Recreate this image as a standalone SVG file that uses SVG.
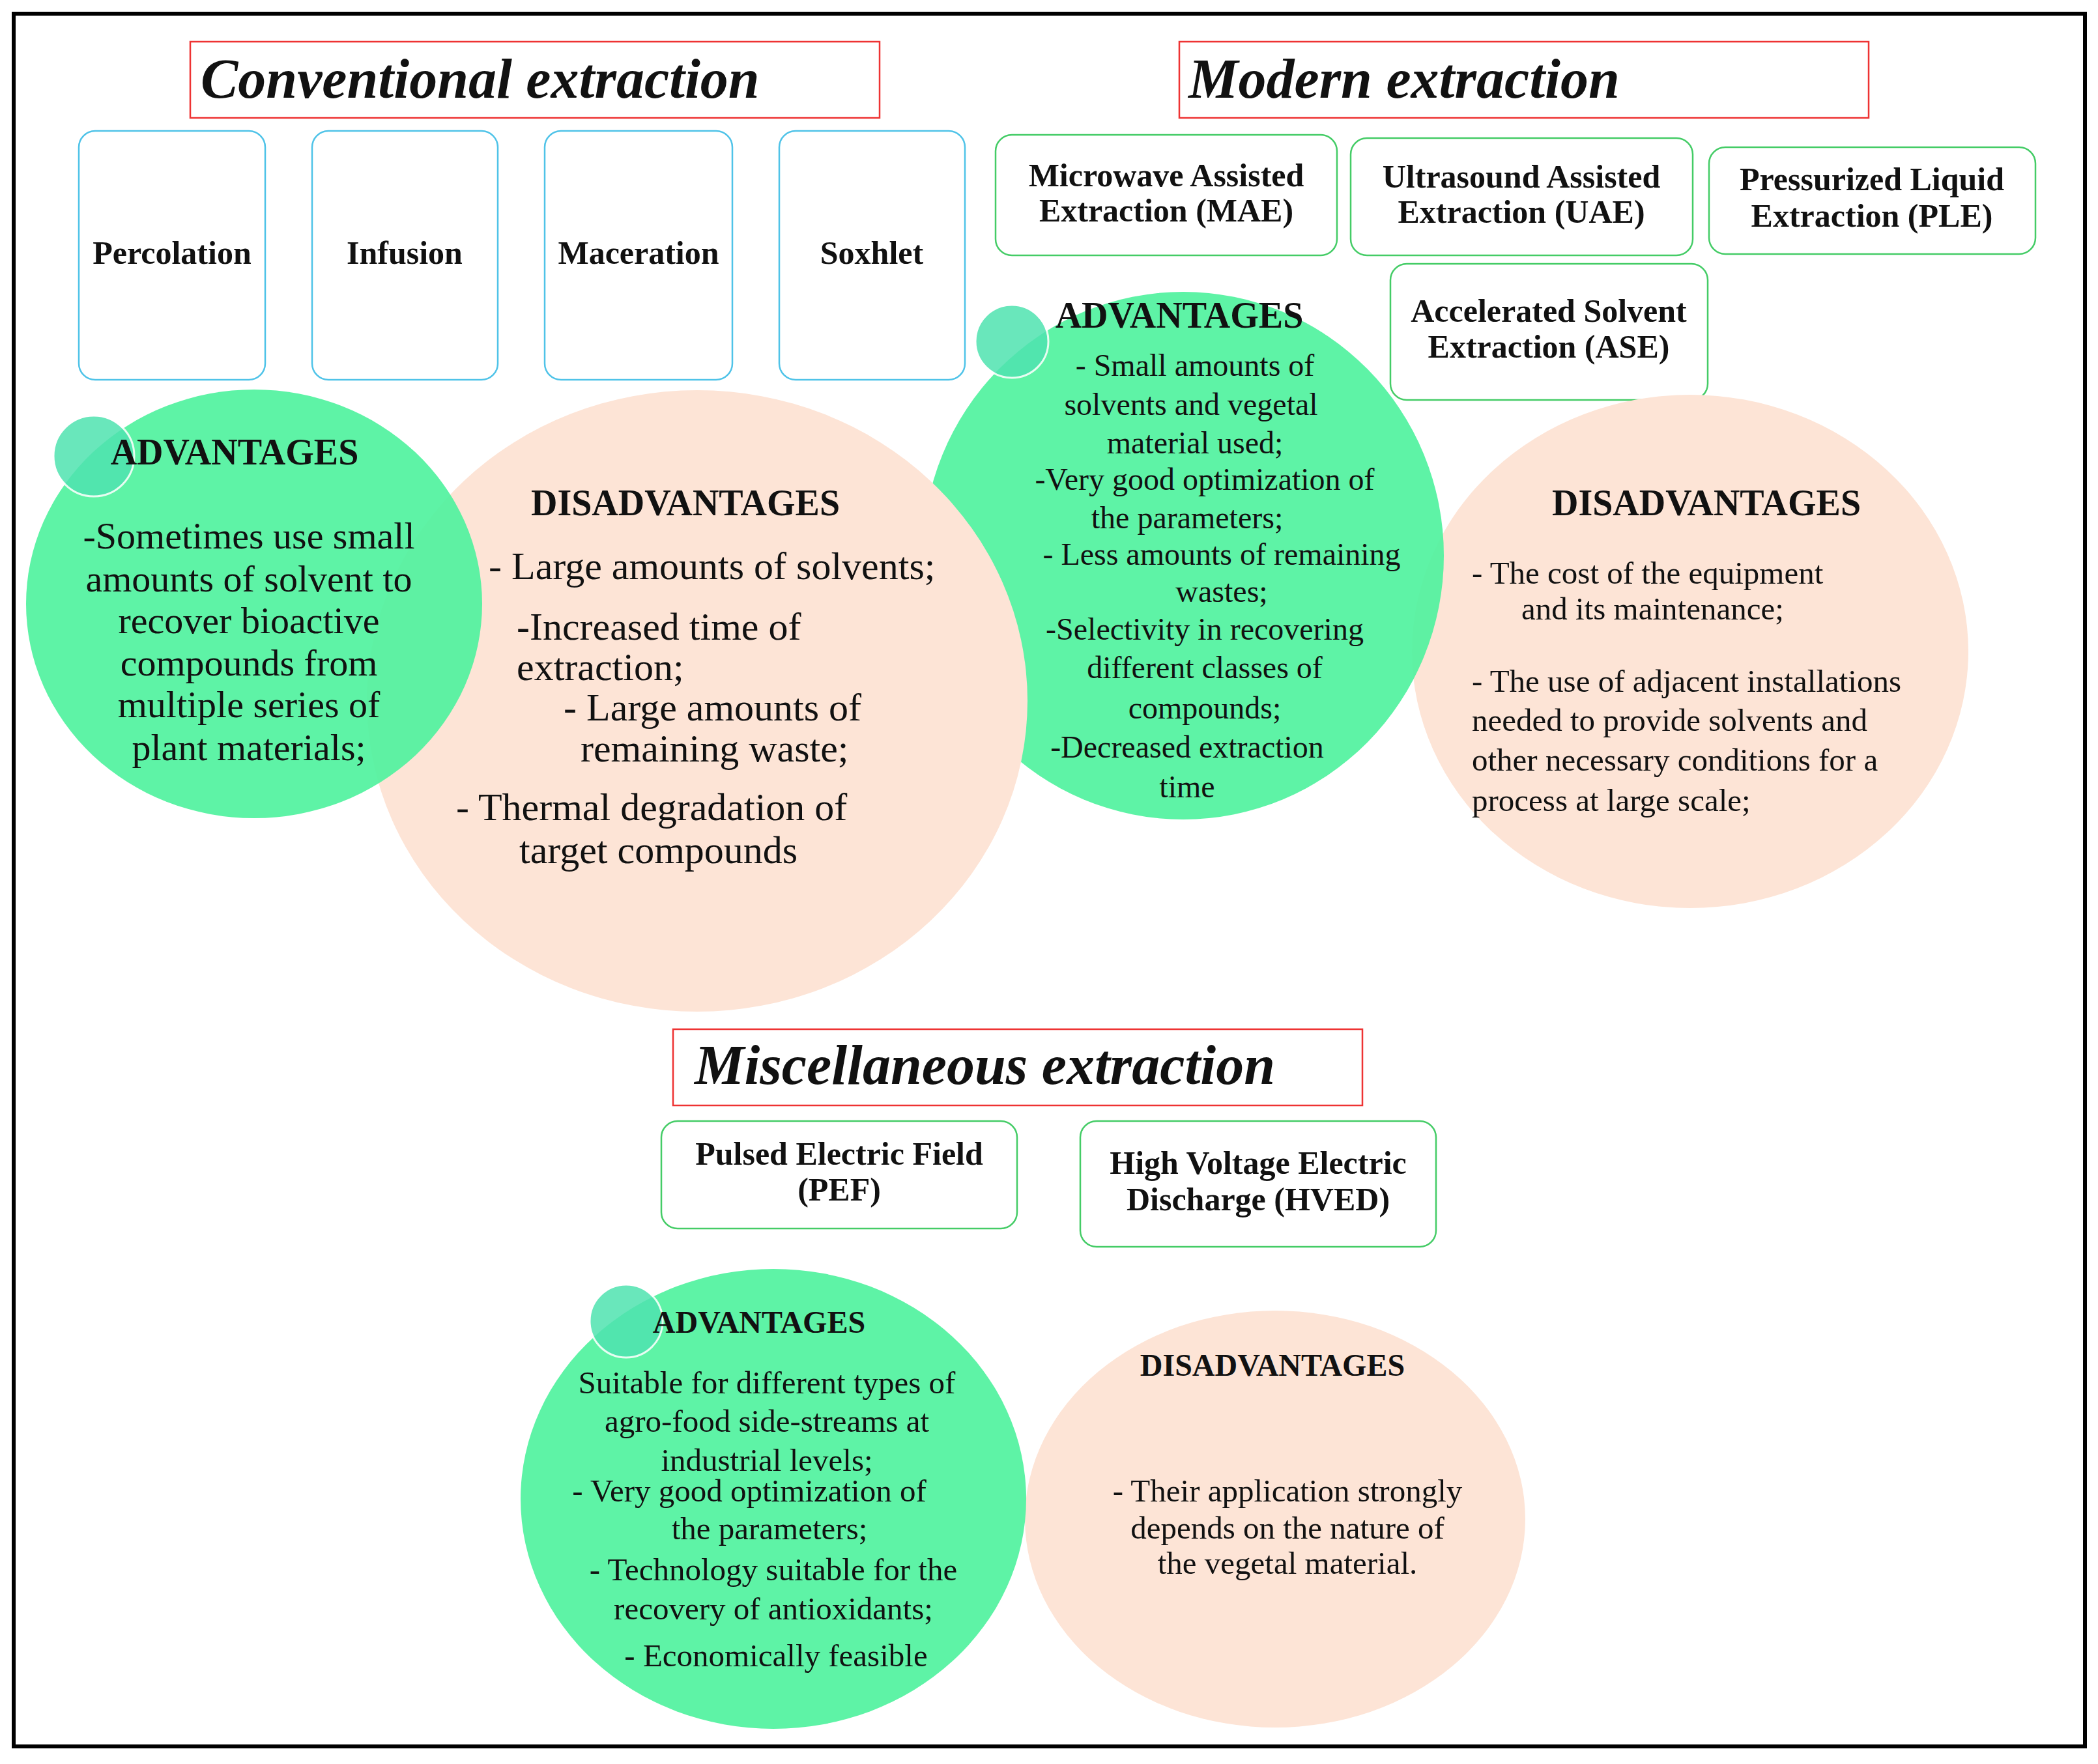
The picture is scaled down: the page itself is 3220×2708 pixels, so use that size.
<svg xmlns="http://www.w3.org/2000/svg" width="3220" height="2708" viewBox="0 0 3220 2708">
<style>
.t{font-family:"Liberation Serif",serif;fill:#111}
.ttl{font-style:italic;font-weight:bold;font-size:86px}
.red{fill:#fff;stroke:#ee3333;stroke-width:2.5}
.cb{fill:#fff;stroke:#4fc3e8;stroke-width:2.5}
.mb{fill:#fff;stroke:#44cc66;stroke-width:2.5}
.bn{font-weight:bold;font-size:50px;text-anchor:middle}
.hd{font-weight:bold;text-anchor:middle}
.g{fill:#52f29f;opacity:0.93}
.p{fill:#fde4d6}
.sc{fill:#4fe3b0;opacity:0.85;stroke:#fff;stroke-width:3}
</style>
<rect x="0" y="0" width="3220" height="2708" fill="#fff"/>
<rect x="21" y="21" width="3179" height="2660" fill="none" stroke="#000" stroke-width="6"/>

<g id="title-conv"><rect class="red" x="292" y="64" width="1058" height="117"/><text class="t ttl" x="308" y="150">Conventional extraction</text></g>
<g id="title-modern"><rect class="red" x="1810" y="64" width="1058" height="117"/><text class="t ttl" x="1824" y="150">Modern extraction</text></g>
<g id="title-misc"><rect class="red" x="1033" y="1580" width="1058" height="117"/><text class="t ttl" x="1066" y="1664">Miscellaneous extraction</text></g>

<g id="percolation"><rect class="cb" x="121" y="201" width="286" height="382" rx="25"/><text class="t bn" x="264" y="405">Percolation</text></g>
<g id="infusion"><rect class="cb" x="479" y="201" width="285" height="382" rx="25"/><text class="t bn" x="621" y="405">Infusion</text></g>
<g id="maceration"><rect class="cb" x="836" y="201" width="288" height="382" rx="25"/><text class="t bn" x="980" y="405">Maceration</text></g>
<g id="soxhlet"><rect class="cb" x="1196" y="201" width="285" height="382" rx="25"/><text class="t bn" x="1338" y="405">Soxhlet</text></g>

<g id="mae"><rect class="mb" x="1528" y="207" width="524" height="185" rx="25"/><text class="t bn" x="1790" y="286">Microwave Assisted</text><text class="t bn" x="1790" y="340">Extraction (MAE)</text></g>
<g id="uae"><rect class="mb" x="2073" y="212" width="525" height="180" rx="25"/><text class="t bn" x="2335" y="288">Ultrasound Assisted</text><text class="t bn" x="2335" y="342">Extraction (UAE)</text></g>
<g id="ple"><rect class="mb" x="2623" y="226" width="501" height="164" rx="25"/><text class="t bn" x="2873" y="292">Pressurized Liquid</text><text class="t bn" x="2873" y="348">Extraction (PLE)</text></g>
<g id="ase"><rect class="mb" x="2134" y="405" width="487" height="209" rx="25"/><text class="t bn" x="2377" y="494">Accelerated Solvent</text><text class="t bn" x="2377" y="549">Extraction (ASE)</text></g>

<g id="pef"><rect class="mb" x="1015" y="1721" width="546" height="165" rx="25"/><text class="t bn" x="1288" y="1788">Pulsed Electric Field</text><text class="t bn" x="1288" y="1843">(PEF)</text></g>
<g id="hved"><rect class="mb" x="1658" y="1721" width="546" height="193" rx="25"/><text class="t bn" x="1931" y="1802">High Voltage Electric</text><text class="t bn" x="1931" y="1858">Discharge (HVED)</text></g>

<g id="mod-disadv"><ellipse class="p" cx="2594" cy="1000" rx="427" ry="394"/>
<text class="t hd" x="2619" y="791" font-size="56">DISADVANTAGES</text>
<g class="t" font-size="49"><text x="2259" y="896">- The cost of the equipment</text><text x="2335" y="951">and its maintenance;</text><text x="2259" y="1062">- The use of adjacent installations</text><text x="2259" y="1122">needed to provide solvents and</text><text x="2259" y="1183">other necessary conditions for a</text><text x="2259" y="1245">process at large scale;</text></g></g>
<g id="mod-adv"><ellipse class="g" cx="1816" cy="853" rx="400" ry="405"/><circle class="sc" cx="1553" cy="524" r="56"/>
<text class="t hd" x="1810" y="503" font-size="56">ADVANTAGES</text>
<g class="t" font-size="48" text-anchor="middle"><text x="1834" y="577">-  Small amounts of</text><text x="1828" y="637">solvents and vegetal</text><text x="1834" y="696">material used;</text><text x="1849" y="752">-Very good optimization of</text><text x="1822" y="811">the parameters;</text><text x="1875" y="867">- Less amounts of remaining</text><text x="1875" y="924">wastes;</text><text x="1849" y="982">-Selectivity in recovering</text><text x="1849" y="1041">different classes of</text><text x="1849" y="1103">compounds;</text><text x="1822" y="1163">-Decreased extraction</text><text x="1822" y="1224">time</text></g></g>

<g id="conv-disadv"><ellipse class="p" cx="1070" cy="1076" rx="507" ry="477"/>
<text class="t hd" x="1052" y="791" font-size="56">DISADVANTAGES</text>
<g class="t" font-size="60"><text x="750" y="889">- Large amounts of solvents;</text><text x="793" y="982">-Increased time of</text><text x="793" y="1044">extraction;</text><text x="865" y="1106">- Large amounts of</text><text x="891" y="1169">remaining waste;</text><text x="700" y="1259">- Thermal degradation of</text><text x="797" y="1325">target compounds</text></g></g>
<g id="conv-adv"><ellipse class="g" cx="390" cy="927" rx="350" ry="329"/><circle class="sc" cx="144" cy="700" r="62"/>
<text class="t hd" x="360" y="713" font-size="56">ADVANTAGES</text>
<g class="t" font-size="58" text-anchor="middle"><text x="382" y="842">-Sometimes use small</text><text x="382" y="908">amounts of solvent to</text><text x="382" y="972">recover bioactive</text><text x="382" y="1037">compounds from</text><text x="382" y="1101">multiple series of</text><text x="382" y="1167">plant materials;</text></g></g>

<g id="misc-disadv"><ellipse class="p" cx="1957" cy="2332" rx="384" ry="320"/>
<text class="t hd" x="1953" y="2112" font-size="48">DISADVANTAGES</text>
<g class="t" font-size="49" text-anchor="middle"><text x="1976" y="2305">- Their application strongly</text><text x="1976" y="2362">depends on the nature of</text><text x="1976" y="2416">the vegetal material.</text></g></g>
<g id="misc-adv"><ellipse class="g" cx="1187" cy="2301" rx="388" ry="353"/><circle class="sc" cx="961" cy="2028" r="56"/>
<text class="t hd" x="1165" y="2046" font-size="48">ADVANTAGES</text>
<g class="t" font-size="49" text-anchor="middle"><text x="1177" y="2139">Suitable for different types of</text><text x="1177" y="2198">agro-food side-streams at</text><text x="1177" y="2258">industrial levels;</text><text x="1150" y="2305">-   Very good optimization of</text><text x="1181" y="2363">the parameters;</text><text x="1187" y="2426">- Technology suitable for the</text><text x="1187" y="2486">recovery of antioxidants;</text><text x="1191" y="2558">- Economically feasible</text></g></g>
</svg>
